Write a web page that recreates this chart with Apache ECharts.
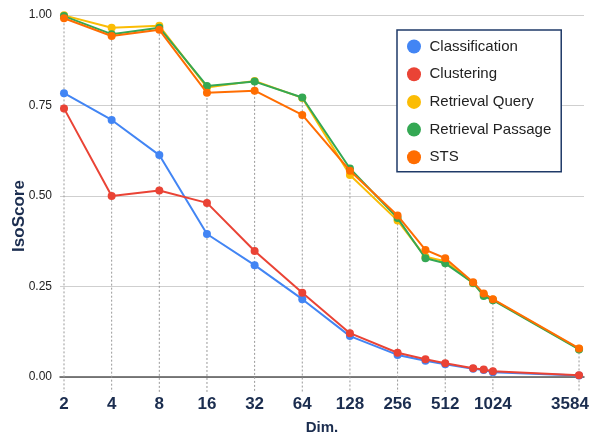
<!DOCTYPE html>
<html>
<head>
<meta charset="utf-8">
<script src="https://cdn.jsdelivr.net/npm/echarts@6/dist/echarts.min.js"></script>
<style>
  html, body { margin: 0; padding: 0; background: #fff; }
  #chart { width: 592px; height: 434px; }
</style>
</head>
<body>
<div id="chart"></div>
<script>
// Embedding dimensions (x, log2 scale)
const dims = [2, 4, 8, 16, 32, 64, 128, 256, 384, 512, 768, 896, 1024, 3584];
// Labelled ticks on the x axis
const xTicks = [2, 4, 8, 16, 32, 64, 128, 256, 512, 1024, 3584];
const yTicks = [0, 0.25, 0.5, 0.75, 1.0];

const seriesNames = ['Classification', 'Clustering', 'Retrieval Query', 'Retrieval Passage', 'STS'];

const classification   = [0.784, 0.710, 0.613, 0.395, 0.309, 0.215, 0.113, 0.061, 0.045, 0.035, 0.023, 0.019, 0.013, 0.004];
const clustering       = [0.742, 0.500, 0.515, 0.481, 0.348, 0.233, 0.121, 0.067, 0.049, 0.038, 0.024, 0.021, 0.016, 0.005];
const retrievalQuery   = [0.999, 0.965, 0.970, 0.800, 0.818, 0.771, 0.558, 0.432, 0.332, 0.320, 0.259, 0.228, 0.214, 0.078];
const retrievalPassage = [0.997, 0.947, 0.965, 0.804, 0.816, 0.772, 0.576, 0.439, 0.328, 0.314, 0.260, 0.224, 0.212, 0.076];
const sts              = [0.991, 0.942, 0.959, 0.785, 0.791, 0.724, 0.570, 0.446, 0.351, 0.328, 0.262, 0.231, 0.215, 0.079];

const allValues = [classification, clustering, retrievalQuery, retrievalPassage, sts];
const colors = ['#4285F4', '#EA4335', '#FBBC04', '#34A853', '#FF6D01'];

const navy = '#1b2d4f';
const font = '"Liberation Sans", Arial, sans-serif';

// Drop lines: from the highest value at each labelled dimension down past the axis
const dropData = xTicks.map(function (d) {
  const i = dims.indexOf(d);
  let top = 0;
  allValues.forEach(function (arr) { if (arr[i] > top) top = arr[i]; });
  return [d, top];
});

const lineSeries = seriesNames.map(function (name, k) {
  return {
    name: name,
    type: 'line',
    data: dims.map(function (d, i) { return [d, allValues[k][i]]; }),
    symbol: 'circle',
    symbolSize: 8,
    showSymbol: true,
    lineStyle: { width: 2, color: colors[k] },
    itemStyle: { color: colors[k] },
    z: 3 + k,
    animation: false
  };
});

const chart = echarts.init(document.getElementById('chart'), null, { renderer: 'canvas' });

chart.setOption({
  backgroundColor: '#fff',
  animation: false,
  color: colors,
  grid: { left: 60, right: 8, top: 15, bottom: 57, containLabel: false, outerBoundsMode: 'none' },
  legend: {
    orient: 'vertical',
    left: 397,
    top: 30,
    width: 165,
    padding: [9, 10, 7, 10],
    itemGap: 12.7,
    itemWidth: 15,
    itemHeight: 14,
    icon: 'circle',
    borderColor: '#1f3a68',
    borderWidth: 1.5,
    backgroundColor: '#fff',
    data: seriesNames,
    textStyle: { fontFamily: font, fontSize: 15, color: '#222', padding: [0, 0, 0, 3] }
  },
  xAxis: {
    type: 'log',
    logBase: 2,
    min: 1.887,
    max: 3853,
    name: 'Dim.',
    nameLocation: 'middle',
    nameGap: 43,
    nameMoveOverlap: false,
    nameTextStyle: { fontFamily: font, fontWeight: 'bold', fontSize: 15, color: navy },
    axisLine: { show: true, lineStyle: { color: '#555', width: 1.5 } },
    axisTick: { show: false },
    splitLine: { show: false },
    axisLabel: {
      customValues: xTicks,
      margin: 19,
      fontFamily: font,
      fontWeight: 'bold',
      fontSize: 17,
      color: navy,
      formatter: function (v) {
        return v === xTicks[xTicks.length - 1] ? '{last|' + v + '}' : String(v);
      },
      rich: {
        last: { fontFamily: font, fontWeight: 'bold', fontSize: 17, color: navy, padding: [0, 18, 0, 0] }
      }
    }
  },
  yAxis: {
    type: 'value',
    min: 0,
    max: 1,
    interval: 0.25,
    name: 'IsoScore',
    nameLocation: 'middle',
    nameRotate: 90,
    nameGap: 32,
    nameMoveOverlap: false,
    nameTextStyle: { fontFamily: font, fontWeight: 'bold', fontSize: 17, color: navy, padding: [0, 40, 0, 0] },
    axisLine: { show: false },
    axisTick: { show: false },
    splitLine: { show: true, lineStyle: { color: '#cfcfcf', width: 1 } },
    axisLabel: {
      margin: 8,
      fontFamily: font,
      fontSize: 12,
      color: '#222',
      formatter: function (v) { return v.toFixed(2); }
    }
  },
  series: [{
    name: 'drop',
    type: 'custom',
    data: dropData,
    clip: false,
    silent: true,
    z: 1,
    renderItem: function (params, api) {
      const x = api.value(0);
      const top = api.coord([x, api.value(1)]);
      const base = api.coord([x, 0]);
      return {
        type: 'line',
        shape: { x1: top[0], y1: top[1], x2: base[0], y2: base[1] + 15 },
        style: { stroke: '#999', lineWidth: 1, lineDash: [2, 2] }
      };
    }
  }].concat(lineSeries)
});
</script>
</body>
</html>
